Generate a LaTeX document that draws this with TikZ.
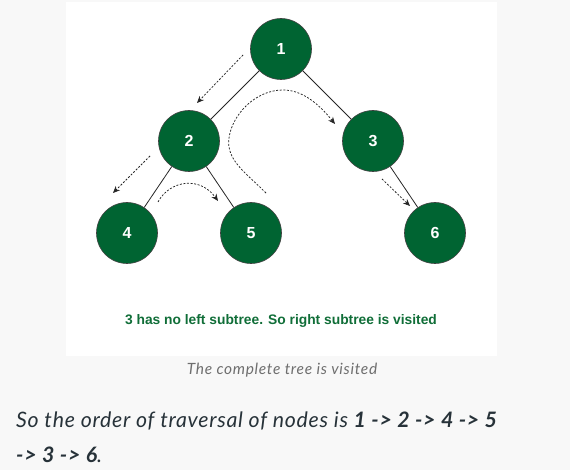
\documentclass[tikz,border=0pt]{standalone}
\usepackage{fontspec}
\setmainfont{Liberation Sans}
\newfontfamily\latofont{Lato}
\newfontfamily\latowide[LetterSpace=3.5]{Lato}
\newfontfamily\latocap[LetterSpace=4.5]{Lato}
\usetikzlibrary{arrows.meta}
\definecolor{gfggreen}{RGB}{0,100,50}
\definecolor{textgreen}{RGB}{16,110,56}
\definecolor{pagegray}{RGB}{248,248,248}
\definecolor{capgray}{RGB}{110,110,110}
\definecolor{bodytext}{RGB}{39,50,57}
\begin{document}
\begin{tikzpicture}[x=1pt,y=-1pt,
  treenode/.style={circle,draw=black!75,line width=0.6pt,fill=gfggreen,minimum size=61pt,inner sep=0pt,text=white,font=\fontsize{16}{18}\selectfont\bfseries},
  edge/.style={draw=black!85,line width=0.8pt},
  trav/.style={draw=black!85,line width=0.75pt,dash pattern=on 2pt off 1.6pt,-{Stealth[length=7pt,width=6pt]}},
  bodyline/.style={text=bodytext,anchor=base west,inner sep=0pt,font=\latowide\fontsize{21.3}{26}\selectfont\itshape}]
\useasboundingbox (0,0) rectangle (570,470);
\fill[pagegray] (0,0) rectangle (570,470);
\fill[white] (66,2) rectangle (497,356);
\node[treenode] (n1) at (281,49) {1};
\node[treenode] (n2) at (189,141) {2};
\node[treenode] (n3) at (373,141) {3};
\node[treenode] (n4) at (127,233) {4};
\node[treenode] (n5) at (251,233) {5};
\node[treenode] (n6) at (435,233) {6};
\draw[edge] (n1) -- (n2);
\draw[edge] (n1) -- (n3);
\draw[edge] (n2) -- (n4);
\draw[edge] (n2) -- (n5);
\draw[edge] (n3) -- (n6);
\coordinate (a1s) at (243,55);
\coordinate (a1e) at (197,103);
\coordinate (a2s) at (266,193);
\coordinate (a2e) at (335,124);
\coordinate (a3s) at (150,156);
\coordinate (a3e) at (113,193);
\coordinate (a4s) at (158,202);
\coordinate (a4e) at (218,201);
\coordinate (a5s) at (382,179);
\coordinate (a5e) at (410,206);
\draw[trav] (a1s) -- (a1e);
\draw[trav] (a2s) .. controls (245,172) and (226,160) .. (229,138) .. controls (232,115) and (255,90) .. (283,90) .. controls (305,90) and (322,108) .. (a2e);
\draw[trav] (a3s) -- (a3e);
\draw[trav] (a4s) .. controls (170,180) and (200,176) .. (a4e);
\draw[trav] (a5s) -- (a5e);
\node[text=textgreen,font=\fontsize{13.8}{16}\selectfont\bfseries] (note) at (281,321) {3 has no left subtree. So right subtree is visited};
\node[text=capgray,font=\latocap\fontsize{15.5}{18}\selectfont\itshape] (cap) at (282,370) {The complete tree is visited};
\node[bodyline] (l1) at (16,427) {So the order of traversal of nodes is \textbf{1 -> 2 -> 4 -> 5}};
\node[bodyline] (l2) at (16,462) {\textbf{-> 3 -> 6}.};
\end{tikzpicture}
\end{document}
